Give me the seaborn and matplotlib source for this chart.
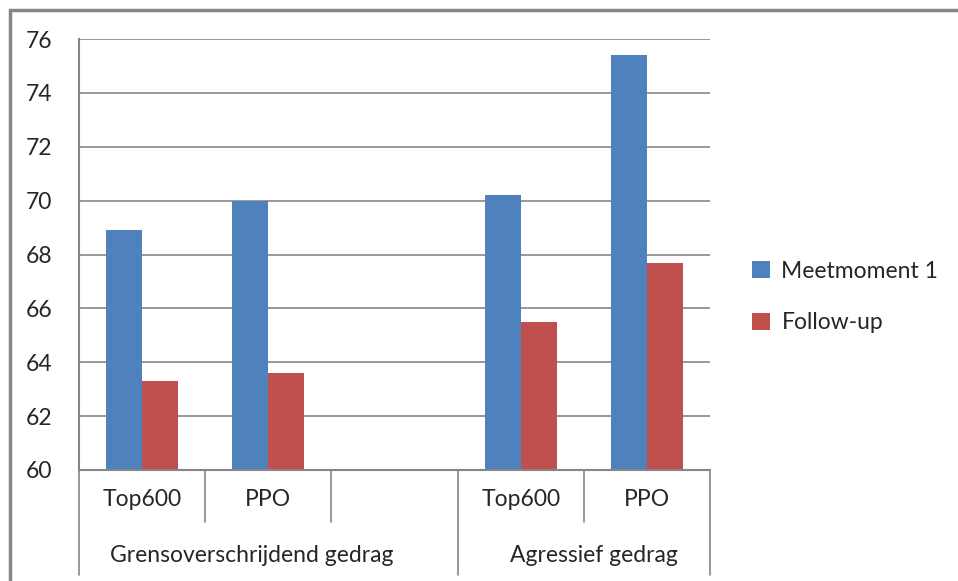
import numpy as np
import pandas as pd
import matplotlib.pyplot as plt
import seaborn as sns
from matplotlib.patches import Patch
from matplotlib.lines import Line2D
import matplotlib.transforms as mtransforms

# data
keys = ['g_top600', 'g_ppo', 'g_leeg', 'a_top600', 'a_ppo']
tick_labels = ['Top600', 'PPO', '', 'Top600', 'PPO']
groups = ['Grensoverschrijdend gedrag', 'Agressief gedrag']
series = ['Meetmoment 1', 'Follow-up']
meetmoment1 = [68.9, 70.0, np.nan, 70.2, 75.4]
follow_up = [63.3, 63.6, np.nan, 65.5, 67.7]
colors = ['#4F81BD', '#C0504D']

df = pd.DataFrame({
    'key': keys * 2,
    'serie': [series[0]] * 5 + [series[1]] * 5,
    'waarde': meetmoment1 + follow_up,
})

sns.set_style('white')
plt.rcParams['font.family'] = ['Lato', 'DejaVu Sans']
grey = '#868686'
fs = 16.5

fig = plt.figure(figsize=(9.58, 5.81), dpi=100)
ax = fig.add_axes([79 / 958, 1 - 470 / 581, (710 - 79) / 958, (470 - 39) / 581])

sns.barplot(data=df, x='key', y='waarde', hue='serie', order=keys,
            hue_order=series, palette=colors, width=0.57, saturation=1,
            linewidth=0, ax=ax, legend=False)

ax.set_ylim(60, 76)
ax.set_xlim(-0.5, 4.5)
ax.set_yticks(np.arange(60, 77, 2))
ax.yaxis.grid(True, color=grey, linewidth=1.2)
ax.set_axisbelow(True)
ax.set_xlabel('')
ax.set_ylabel('')
for side in ['top', 'right']:
    ax.spines[side].set_visible(False)
for side in ['left', 'bottom']:
    ax.spines[side].set_color(grey)
    ax.spines[side].set_linewidth(1.5)
ax.tick_params(axis='y', length=11, color=grey, width=1.2, labelsize=fs, pad=8)
ax.tick_params(axis='x', length=0, labelsize=fs, pad=14)
ax.set_xticks(range(5))
ax.set_xticklabels(tick_labels)

# category separators below the axis
trans = mtransforms.blended_transform_factory(ax.transData, ax.transAxes)
short_y = (470 - 522) / 431
long_y = (470 - 575) / 431
for xs, yb in [(-0.5, long_y), (0.5, short_y), (1.5, short_y), (2.5, long_y),
               (3.5, short_y), (4.5, long_y)]:
    ax.add_line(Line2D([xs, xs], [0, yb], transform=trans, color=grey,
                       linewidth=1.2, clip_on=False))

group_y = (470 - 555) / 431
ax.text(0.87, group_y, groups[0], transform=trans, ha='center', va='center', fontsize=fs)
ax.text(3.58, group_y, groups[1], transform=trans, ha='center', va='center', fontsize=fs)

# legend
handles = [Patch(facecolor=c, edgecolor='none') for c in colors]
fig.legend(handles, series, loc='center left', bbox_to_anchor=(731 / 958, 1 - 297 / 581),
           frameon=False, fontsize=fs, handlelength=0.8, handleheight=0.8,
           handletextpad=0.5, labelspacing=1.35)

# outer frame (top and left visible)
fig.add_artist(Line2D([10 / 958, 10 / 958], [0, 1 - 9.5 / 581], color=grey, linewidth=2.5))
fig.add_artist(Line2D([10 / 958, 1], [1 - 9.5 / 581, 1 - 9.5 / 581], color=grey, linewidth=2.5))

fig.savefig('out.png', dpi=100)
